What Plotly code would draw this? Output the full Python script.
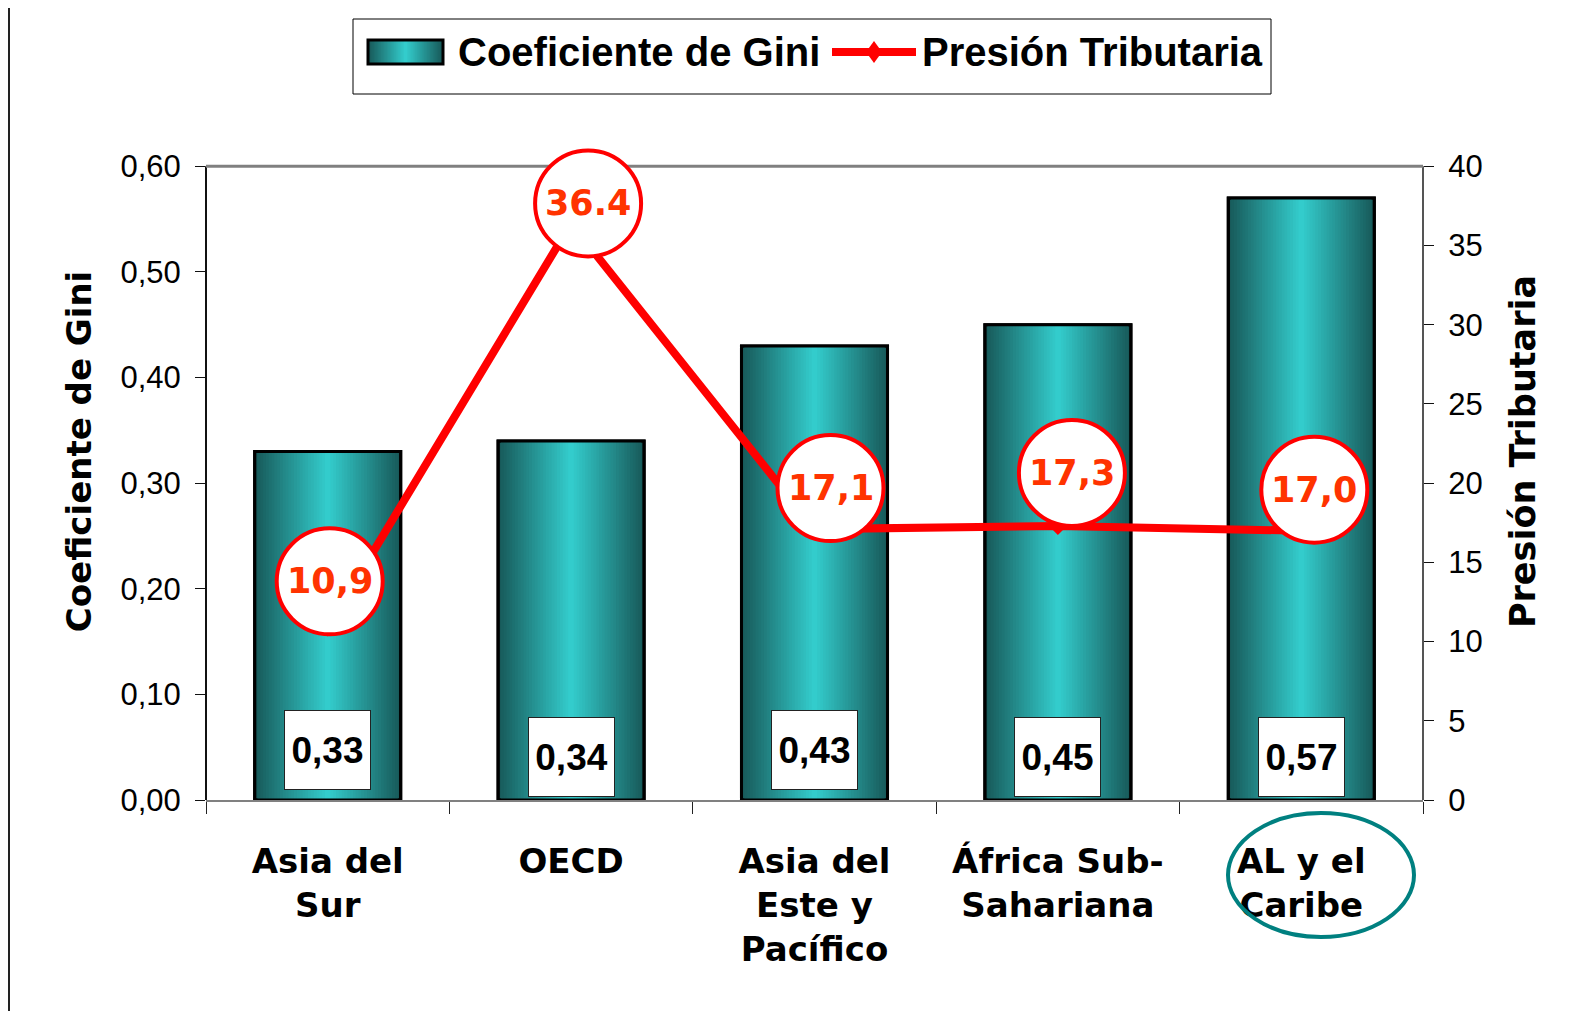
import plotly.graph_objects as go

# ---------------- data ----------------
categories = ["Asia del<br>Sur", "OECD", "Asia del<br>Este y<br>Pacífico",
              "África Sub-<br>Sahariana", "AL y el<br>Caribe"]
gini = [0.33, 0.34, 0.43, 0.45, 0.57]
presion = [10.9, 36.4, 17.1, 17.3, 17.0]
presion_labels = ["10,9", "36.4", "17,1", "17,3", "17,0"]
gini_ticks = [0.0, 0.1, 0.2, 0.3, 0.4, 0.5, 0.6]
gini_ticktext = ["0,00", "0,10", "0,20", "0,30", "0,40", "0,50", "0,60"]
presion_ticks = [0, 5, 10, 15, 20, 25, 30, 35, 40]
series_names = ["Coeficiente de Gini", "Presión Tributaria"]

# ---------------- styles ----------------
W, H = 1579, 1011
ML, MR, MT, MB = 198, 164, 95, 219
PW, PH = W - ML - MR, H - MT - MB
Y2_MAX = 44            # extra head-room so label circles are not clipped
Y_MAX = 0.6 * Y2_MAX / 40
BAR_W = 0.6
DARK = (24, 90, 90)
LIGHT = (51, 204, 204)
N_STEPS = 26
RED = "#FF0000"
LABEL_RED = "#FF3300"
BOLD_WIDE = "DejaVu Sans, Verdana, sans-serif"
ARIAL = "Liberation Sans, Arial, sans-serif"


def px_x(p):  # figure pixel -> paper x
    return (p - ML) / PW


def px_y(p):  # figure pixel -> paper y
    return (H - MB - p) / PH


def grad_color(t):
    c = tuple(round(DARK[j] + (LIGHT[j] - DARK[j]) * t) for j in range(3))
    return "rgb(%d,%d,%d)" % c


label_offsets = [(2, 46), (17, 20), (16, 41), (14, 53), (13, 41)]
box_yshift = [10, 3, 10, 3, 3]
CIRCLE_R = 53

fig = go.Figure()

# gradient bars via overlaid bars of decreasing width
for k in range(N_STEPS):
    t = k / (N_STEPS - 1)
    w = BAR_W * (1 - k / N_STEPS)
    fig.add_trace(go.Bar(
        x=categories, y=gini, width=[w] * len(gini),
        marker=dict(color=grad_color(t),
                    line=dict(color="black", width=3 if k == 0 else 0)),
        name=series_names[0], showlegend=False, hoverinfo="skip"))
# outline on top
fig.add_trace(go.Bar(
    x=categories, y=gini, width=[BAR_W] * len(gini),
    marker=dict(color="rgba(0,0,0,0)", line=dict(color="black", width=3)),
    name=series_names[0], showlegend=False, hoverinfo="skip"))

fig.add_trace(go.Scatter(
    x=categories, y=presion, yaxis="y2", mode="lines+markers",
    name=series_names[1], showlegend=False,
    line=dict(color=RED, width=8),
    marker=dict(symbol="diamond", size=14, color=RED),
    cliponaxis=False, hoverinfo="skip"))

shapes = []
annotations = []

# white panel over the yellow paper
shapes.append(dict(type="rect", xref="paper", yref="paper",
                   x0=px_x(1), x1=px_x(W + 20), y0=px_y(H + 20), y1=px_y(-3),
                   fillcolor="white", line=dict(color="#222", width=2), layer="below"))

# axis lines / frame
shapes.append(dict(type="line", xref="paper", yref="y", x0=0, x1=0, y0=0, y1=0.6,
                   line=dict(color="#111", width=2)))
shapes.append(dict(type="line", xref="paper", yref="y2", x0=1, x1=1, y0=0, y1=40,
                   line=dict(color="#555", width=2)))
shapes.append(dict(type="line", xref="paper", yref="y2", x0=0, x1=1, y0=40, y1=40,
                   line=dict(color="#808080", width=3)))

# label circles + texts
for i, (v, txt) in enumerate(zip(presion, presion_labels)):
    dx, dy = label_offsets[i]
    shapes.append(dict(type="circle", xref="x", yref="y2",
                       xsizemode="pixel", ysizemode="pixel",
                       xanchor=i, yanchor=v,
                       x0=dx - CIRCLE_R, x1=dx + CIRCLE_R,
                       y0=dy - CIRCLE_R, y1=dy + CIRCLE_R,
                       fillcolor="white", line=dict(color=RED, width=4), layer="above"))
    annotations.append(dict(x=i, y=v, xref="x", yref="y2", xshift=dx, yshift=dy,
                            text=txt, showarrow=False,
                            font=dict(family=BOLD_WIDE, size=35, color=LABEL_RED, weight="bold")))

# bar value boxes
for i, g in enumerate(gini):
    annotations.append(dict(x=i, y=0, xref="x", yref="y", yanchor="bottom",
                            yshift=box_yshift[i],
                            text=("%.2f" % g).replace(".", ","), showarrow=False,
                            width=85, height=78, valign="middle",
                            bgcolor="white", bordercolor="#222", borderwidth=1, borderpad=0,
                            font=dict(family=ARIAL, size=37, color="black", weight="bold")))

# ellipse around "AL y el Caribe"
shapes.append(dict(type="circle", xref="paper", yref="paper",
                   xsizemode="pixel", ysizemode="pixel",
                   xanchor=px_x(1313), yanchor=px_y(867),
                   x0=-93, x1=93, y0=-62, y1=62,
                   line=dict(color="#008080", width=4), layer="above"))

# ---------------- legend (drawn) ----------------
LEG_Y = 44
shapes.append(dict(type="rect", xref="paper", yref="paper",
                   x0=px_x(345), x1=px_x(1263), y0=px_y(86), y1=px_y(11),
                   fillcolor="white", line=dict(color="black", width=1), layer="above"))
SYM_X0, SYM_X1, SYM_H = 360, 435, 24
sym_c = (SYM_X0 + SYM_X1) / 2
sym_half = (SYM_X1 - SYM_X0) / 2
for k in range(N_STEPS):
    t = k / (N_STEPS - 1)
    hw = sym_half * (1 - k / N_STEPS)
    shapes.append(dict(type="rect", xref="paper", yref="paper",
                       x0=px_x(sym_c - hw), x1=px_x(sym_c + hw),
                       y0=px_y(LEG_Y + SYM_H / 2), y1=px_y(LEG_Y - SYM_H / 2),
                       fillcolor=grad_color(t), line=dict(width=0), layer="above"))
shapes.append(dict(type="rect", xref="paper", yref="paper",
                   x0=px_x(SYM_X0), x1=px_x(SYM_X1),
                   y0=px_y(LEG_Y + SYM_H / 2), y1=px_y(LEG_Y - SYM_H / 2),
                   line=dict(color="black", width=3), layer="above"))
shapes.append(dict(type="line", xref="paper", yref="paper",
                   x0=px_x(824), x1=px_x(908), y0=px_y(LEG_Y), y1=px_y(LEG_Y),
                   line=dict(color=RED, width=8), layer="above"))
dc = 866
shapes.append(dict(type="path", xref="paper", yref="paper",
                   path="M %f,%f L %f,%f L %f,%f L %f,%f Z" % (
                       px_x(dc - 8), px_y(LEG_Y), px_x(dc), px_y(LEG_Y - 11),
                       px_x(dc + 8), px_y(LEG_Y), px_x(dc), px_y(LEG_Y + 11)),
                   fillcolor=RED, line=dict(width=0), layer="above"))
for name, xl in zip(series_names, [448, 912]):
    annotations.append(dict(x=px_x(xl), y=px_y(LEG_Y), xref="paper", yref="paper",
                            xanchor="left", yanchor="middle", showarrow=False,
                            text=name,
                            font=dict(family=ARIAL, size=40, color="black", weight="bold")))

fig.update_layout(
    width=W, height=H,
    margin=dict(l=ML, r=MR, t=MT, b=MB),
    paper_bgcolor="#FFFFCC", plot_bgcolor="white",
    barmode="overlay",
    showlegend=False,
    xaxis=dict(type="category", range=[-0.5, 4.5], tickson="boundaries",
               ticks="outside", ticklen=12, tickwidth=1, tickcolor="#222",
               showline=True, linecolor="#808080", linewidth=2,
               showgrid=False, zeroline=False, ticklabelstandoff=30,
               tickfont=dict(family=BOLD_WIDE, size=34, color="black", weight="bold")),
    xaxis2=dict(overlaying="x", anchor="y", range=[-0.5, 4.5],
                tickvals=[-0.5, 0.5, 1.5, 2.5, 3.5, 4.5], ticks="inside", ticklen=12,
                tickcolor="#222", showticklabels=False, showgrid=False, zeroline=False,
                showline=False),
    yaxis=dict(range=[0, Y_MAX], tickvals=gini_ticks, ticktext=gini_ticktext,
               ticks="outside", ticklen=10, tickcolor="#111", tickwidth=1,
               showline=False, showgrid=False, zeroline=False, ticklabelstandoff=8,
               tickfont=dict(family=ARIAL, size=31, color="black"),
               title=dict(text="Coeficiente de Gini", standoff=18,
                          font=dict(family=BOLD_WIDE, size=34, color="black", weight="bold"))),
    yaxis2=dict(range=[0, Y2_MAX], tickvals=presion_ticks, overlaying="y", side="right",
                anchor="x", ticks="outside", ticklen=10, tickcolor="#111", tickwidth=1,
                showline=False, showgrid=False, zeroline=False, ticklabelstandoff=8,
                tickfont=dict(family=ARIAL, size=31, color="black"),
                title=dict(text="Presión Tributaria", standoff=28,
                           font=dict(family=BOLD_WIDE, size=35, color="black", weight="bold"))),
    yaxis3=dict(range=[0, Y_MAX], tickvals=gini_ticks, overlaying="y", side="left",
                anchor="x", ticks="inside", ticklen=10, tickcolor="#111",
                showticklabels=False, showgrid=False, zeroline=False, showline=False),
    yaxis4=dict(range=[0, Y2_MAX], tickvals=presion_ticks, overlaying="y", side="right",
                anchor="x", ticks="inside", ticklen=10, tickcolor="#111",
                showticklabels=False, showgrid=False, zeroline=False, showline=False),
    shapes=shapes, annotations=annotations,
)

fig.write_html("out.html")
